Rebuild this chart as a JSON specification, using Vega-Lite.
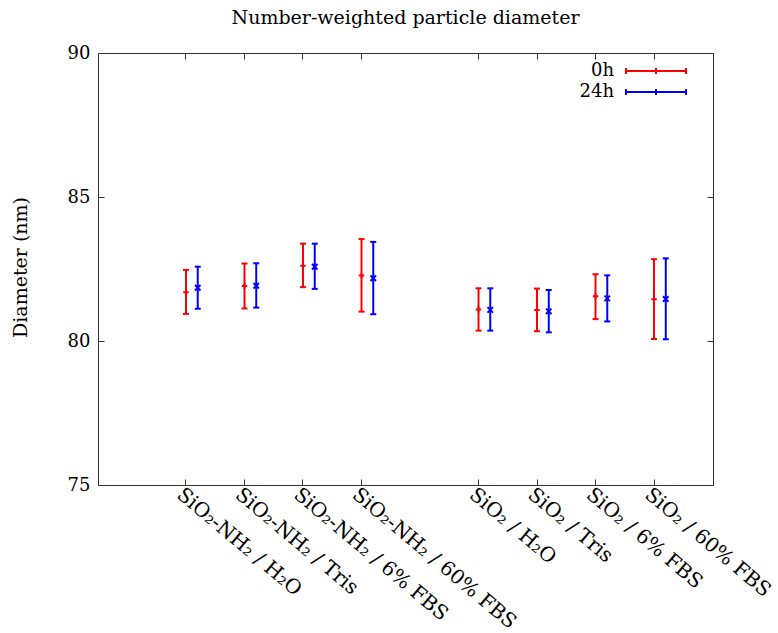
{
  "$schema": "https://vega.github.io/schema/vega-lite/v6.json",
  "width": 615,
  "height": 432,
  "autosize": {"type": "none"},
  "padding": {"left": 98, "top": 53, "right": 65, "bottom": 148},
  "background": "white",
  "title": {
    "text": "Number-weighted particle diameter",
    "font": "DejaVu Serif",
    "fontSize": 19,
    "fontWeight": "normal",
    "color": "black",
    "anchor": "middle",
    "frame": "group",
    "baseline": "alphabetic",
    "offset": 1
  },
  "config": {
    "view": {"stroke": "#333333", "strokeWidth": 1},
    "axis": {
      "grid": false,
      "domain": false,
      "labelFont": "DejaVu Serif",
      "labelFontSize": 18,
      "labelColor": "black",
      "tickColor": "#333333",
      "titleFont": "DejaVu Serif",
      "titleFontSize": 19,
      "titleFontWeight": "normal",
      "titleColor": "black"
    },
    "legend": {"labelFont": "DejaVu Serif", "labelFontSize": 18, "labelColor": "black"}
  },
  "data": {
    "values": [
      {"sample": "SiO₂-NH₂ / H₂O", "time": "0h", "d": 81.69, "lo": 80.94, "hi": 82.47},
      {"sample": "SiO₂-NH₂ / H₂O", "time": "24h", "d": 81.85, "lo": 81.12, "hi": 82.58},
      {"sample": "SiO₂-NH₂ / Tris", "time": "0h", "d": 81.91, "lo": 81.13, "hi": 82.69},
      {"sample": "SiO₂-NH₂ / Tris", "time": "24h", "d": 81.92, "lo": 81.16, "hi": 82.70},
      {"sample": "SiO₂-NH₂ / 6% FBS", "time": "0h", "d": 82.61, "lo": 81.87, "hi": 83.38},
      {"sample": "SiO₂-NH₂ / 6% FBS", "time": "24h", "d": 82.58, "lo": 81.81, "hi": 83.38},
      {"sample": "SiO₂-NH₂ / 60% FBS", "time": "0h", "d": 82.27, "lo": 81.02, "hi": 83.54},
      {"sample": "SiO₂-NH₂ / 60% FBS", "time": "24h", "d": 82.18, "lo": 80.93, "hi": 83.44},
      {"sample": "SiO₂ / H₂O", "time": "0h", "d": 81.09, "lo": 80.36, "hi": 81.83},
      {"sample": "SiO₂ / H₂O", "time": "24h", "d": 81.08, "lo": 80.36, "hi": 81.83},
      {"sample": "SiO₂ / Tris", "time": "0h", "d": 81.08, "lo": 80.34, "hi": 81.82},
      {"sample": "SiO₂ / Tris", "time": "24h", "d": 81.03, "lo": 80.30, "hi": 81.77},
      {"sample": "SiO₂ / 6% FBS", "time": "0h", "d": 81.55, "lo": 80.76, "hi": 82.32},
      {"sample": "SiO₂ / 6% FBS", "time": "24h", "d": 81.48, "lo": 80.68, "hi": 82.28},
      {"sample": "SiO₂ / 60% FBS", "time": "0h", "d": 81.45, "lo": 80.07, "hi": 82.84},
      {"sample": "SiO₂ / 60% FBS", "time": "24h", "d": 81.46, "lo": 80.06, "hi": 82.87}
    ]
  },
  "layer": [
    {
      "mark": {"type": "rule", "strokeWidth": 2},
      "encoding": {
        "x": {
          "field": "sample",
          "type": "nominal",
          "sort": null,
          "scale": {
            "type": "band",
            "domain": ["SiO₂-NH₂ / H₂O", "SiO₂-NH₂ / Tris", "SiO₂-NH₂ / 6% FBS", "SiO₂-NH₂ / 60% FBS", "gap", "SiO₂ / H₂O", "SiO₂ / Tris", "SiO₂ / 6% FBS", "SiO₂ / 60% FBS"],
            "paddingInner": 0,
            "paddingOuter": 0.756,
            "align": 0.664
          },
          "axis": {
            "orient": "bottom",
            "title": null,
            "values": ["SiO₂-NH₂ / H₂O", "SiO₂-NH₂ / Tris", "SiO₂-NH₂ / 6% FBS", "SiO₂-NH₂ / 60% FBS", "SiO₂ / H₂O", "SiO₂ / Tris", "SiO₂ / 6% FBS", "SiO₂ / 60% FBS"],
            "labelAngle": 40,
            "labelAlign": "left",
            "labelBaseline": "top",
            "labelPadding": 5,
            "labelFontSize": 20,
            "tickSize": -6,
            "labelLimit": 400
          }
        },
        "xOffset": {
          "field": "time",
          "type": "nominal",
          "scale": {"type": "point", "domain": ["0h", "24h"], "range": [29.25, 41], "padding": 0}
        },
        "y": {
          "field": "lo",
          "type": "quantitative",
          "scale": {"domain": [75, 90], "nice": false, "zero": false},
          "axis": {
            "orient": "left",
            "title": "Diameter (nm)",
            "values": [75, 80, 85, 90],
            "tickSize": -6,
            "labelPadding": 14,
            "titleAngle": -90,
            "titleX": -78,
            "titleY": 214,
            "titleAlign": "center",
            "titleBaseline": "middle"
          }
        },
        "y2": {"field": "hi"},
        "color": {
          "field": "time",
          "type": "nominal",
          "scale": {"domain": ["0h", "24h"], "range": ["#ff0000", "#0000ff"]},
          "legend": {
            "title": null,
            "orient": "none",
            "legendX": 549,
            "legendY": 9,
            "direction": "vertical",
            "padding": 0,
            "labelAlign": "right",
            "labelOffset": -51,
            "rowPadding": 3,
            "symbolType": "M-10,0H10M-10,-1V1M10,-1V1M0,-1V1",
            "symbolSize": 36,
            "symbolStrokeWidth": 2
          }
        }
      }
    },
    {
      "transform": [{"fold": ["lo", "hi"], "as": ["end", "value"]}],
      "mark": {"type": "point", "filled": false, "strokeWidth": 2, "shape": "M-1,0H1", "size": 36, "opacity": 1},
      "encoding": {
        "x": {"field": "sample", "type": "nominal", "sort": null, "axis": null},
        "xOffset": {"field": "time", "type": "nominal"},
        "y": {"field": "value", "type": "quantitative", "axis": null},
        "color": {"field": "time", "type": "nominal", "legend": null}
      }
    },
    {
      "transform": [{"filter": "datum.time === '0h'"}],
      "mark": {"type": "point", "filled": false, "strokeWidth": 2, "shape": "M-1,0H1M0,-1V1", "size": 30, "opacity": 1},
      "encoding": {
        "x": {"field": "sample", "type": "nominal", "sort": null, "axis": null},
        "xOffset": {"field": "time", "type": "nominal"},
        "y": {"field": "d", "type": "quantitative", "axis": null},
        "color": {"field": "time", "type": "nominal", "legend": null}
      }
    },
    {
      "transform": [{"filter": "datum.time === '24h'"}],
      "mark": {"type": "point", "filled": false, "strokeWidth": 2, "shape": "M-1,-1L1,1M-1,1L1,-1", "size": 30, "opacity": 1},
      "encoding": {
        "x": {"field": "sample", "type": "nominal", "sort": null, "axis": null},
        "xOffset": {"field": "time", "type": "nominal"},
        "y": {"field": "d", "type": "quantitative", "axis": null},
        "color": {"field": "time", "type": "nominal", "legend": null}
      }
    },
    {
      "mark": {"type": "rule", "opacity": 0},
      "encoding": {
        "x": {
          "field": "sample",
          "type": "nominal",
          "sort": null,
          "axis": {
            "orient": "top",
            "title": null,
            "labels": false,
            "values": ["SiO₂-NH₂ / H₂O", "SiO₂-NH₂ / Tris", "SiO₂-NH₂ / 6% FBS", "SiO₂-NH₂ / 60% FBS", "SiO₂ / H₂O", "SiO₂ / Tris", "SiO₂ / 6% FBS", "SiO₂ / 60% FBS"],
            "tickSize": -6
          }
        },
        "y": {
          "field": "d",
          "type": "quantitative",
          "axis": {"orient": "right", "title": null, "labels": false, "values": [75, 80, 85, 90], "tickSize": -6}
        }
      }
    }
  ]
}
